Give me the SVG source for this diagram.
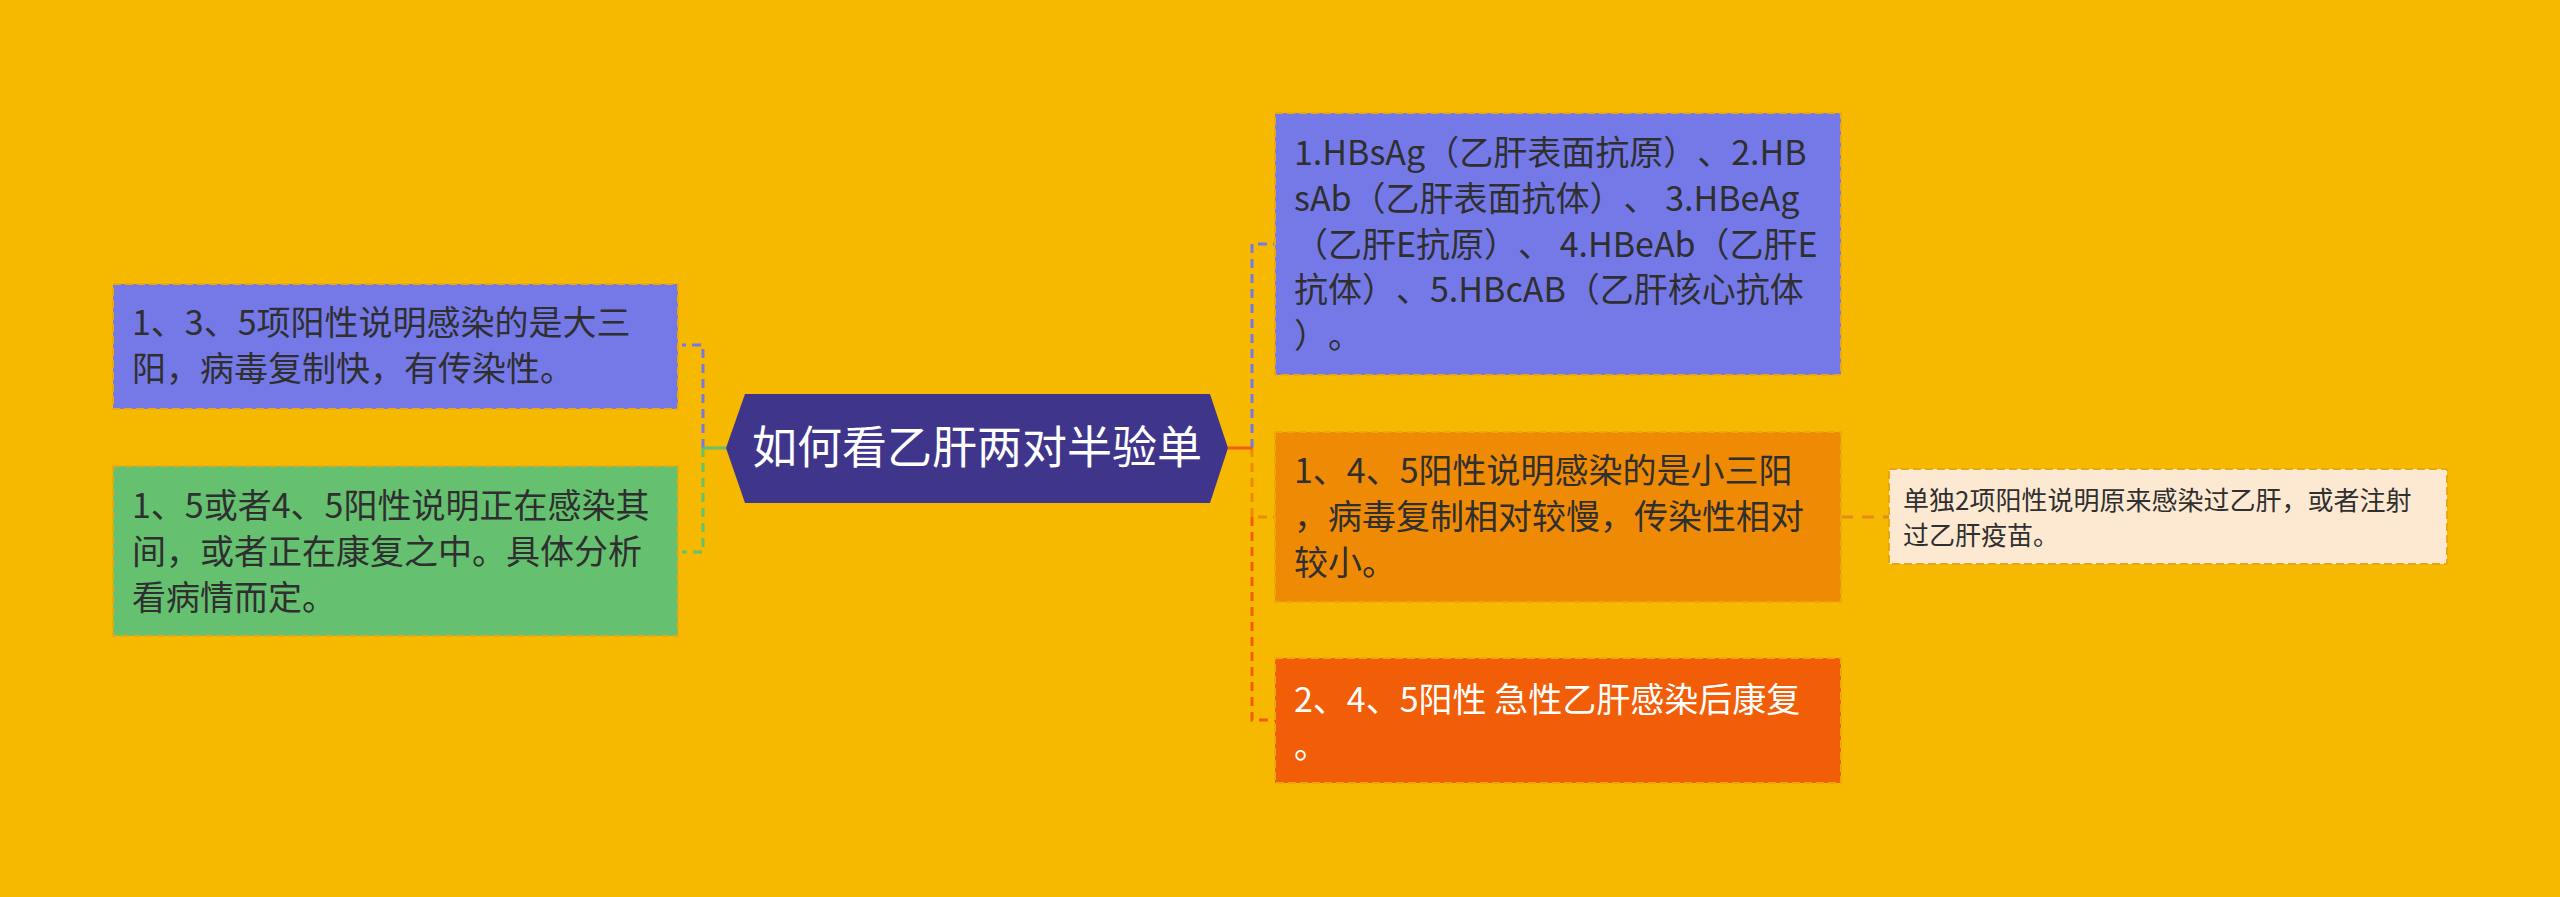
<svg xmlns="http://www.w3.org/2000/svg" width="2560" height="897" viewBox="0 0 2560 897">
<style>
.bg{fill:#f6b900}
.box{stroke:#e9a90c;stroke-width:2;stroke-dasharray:8 4}
.t{font-family:"Noto Sans CJK SC","Noto Sans",sans-serif;font-size:34px;fill:#2f2f2f;text-spacing-trim:space-all}
.tw{fill:#ffffff}
.small{font-size:26px}
.center{font-family:"Noto Sans CJK SC","Noto Sans",sans-serif;font-size:45px;fill:#ffffff;text-anchor:middle}
.c{fill:none;stroke-width:3}
.d{stroke-dasharray:9 6}
</style>
<rect class="bg" x="0" y="0" width="2560" height="897"/>

<g id="connectors">
  <path class="c d" d="M703 448 V345 H682" stroke="#7579e8"/>
  <path class="c d" d="M703 448 V552 H682" stroke="#65c06f"/>
  <path class="c" d="M726 448 H703" stroke="#65c06f"/>
  <path class="c d" d="M1252 448 V244 H1275" stroke="#7579e8"/>
  <path class="c d" d="M1252 448 V517 H1275" stroke="#ef8a05"/>
  <path class="c d" d="M1252 517 V720 H1275" stroke="#f25d08"/>
  <path class="c" d="M1228 448 H1252" stroke="#f25d08"/>
  <path class="c" d="M1841 517 H1889" stroke="#e58a1c" stroke-dasharray="12 9" stroke-width="2"/>
</g>

<g id="root">
  <polygon points="726,448 745,394 1210,394 1228,448 1210,503 745,503" fill="#3f368c"/>
  <text class="center" x="977" y="464">如何看乙肝两对半验单</text>
</g>

<g id="left1">
  <rect class="box" x="113" y="284" width="565" height="125" fill="#7579e8"/>
  <text class="t" x="132"><tspan x="132" y="335">1、3、5项阳性说明感染的是大三</tspan><tspan x="132" y="381">阳，病毒复制快，有传染性。</tspan></text>
</g>

<g id="left2">
  <rect class="box" x="113" y="466" width="565" height="170" fill="#65c06f"/>
  <text class="t" x="132"><tspan x="132" y="518">1、5或者4、5阳性说明正在感染其</tspan><tspan x="132" y="564">间，或者正在康复之中。具体分析</tspan><tspan x="132" y="610">看病情而定。</tspan></text>
</g>

<g id="right1">
  <rect class="box" x="1275" y="113" width="566" height="262" fill="#7579e8"/>
  <text class="t" x="1294"><tspan x="1294" y="165">1.HBsAg（乙肝表面抗原）、2.HB</tspan><tspan x="1294" y="211">sAb（乙肝表面抗体）、 3.HBeAg</tspan><tspan x="1294" y="257">（乙肝E抗原）、 4.HBeAb（乙肝E</tspan><tspan x="1294" y="302">抗体）、5.HBcAB（乙肝核心抗体</tspan><tspan x="1294" y="348">）。</tspan></text>
</g>

<g id="right2">
  <rect class="box" x="1275" y="432" width="566" height="170" fill="#ef8a05"/>
  <text class="t" x="1294"><tspan x="1294" y="483">1、4、5阳性说明感染的是小三阳</tspan><tspan x="1294" y="529">，病毒复制相对较慢，传染性相对</tspan><tspan x="1294" y="575">较小。</tspan></text>
</g>

<g id="right3">
  <rect class="box" x="1275" y="658" width="566" height="125" fill="#f25d08"/>
  <text class="t tw" x="1294"><tspan x="1294" y="712">2、4、5阳性 急性乙肝感染后康复</tspan><tspan x="1294" y="758">。</tspan></text>
</g>

<g id="leaf">
  <rect class="box" x="1889" y="469" width="558" height="95" fill="#fde9d2"/>
  <text class="t small" x="1903"><tspan x="1903" y="510">单独2项阳性说明原来感染过乙肝，或者注射</tspan><tspan x="1903" y="545">过乙肝疫苗。</tspan></text>
</g>
</svg>
